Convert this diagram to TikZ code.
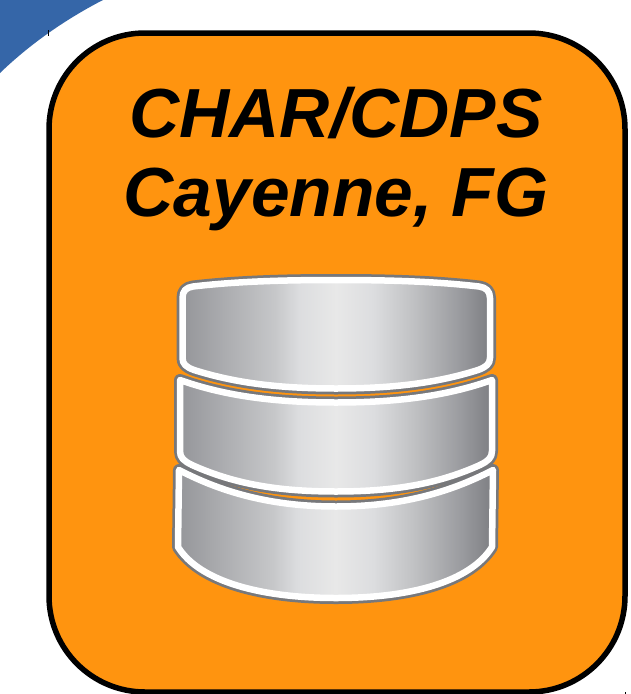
\documentclass[tikz,border=0pt]{standalone}
\usepackage{fontspec}
\setmainfont{Liberation Sans}
\definecolor{cornerblue}{HTML}{3566A8}
\definecolor{panelorange}{HTML}{FF940F}
\definecolor{diskrim}{HTML}{77787B}
\definecolor{sa}{HTML}{95969A}
\definecolor{sb}{HTML}{C6C7C9}
\definecolor{sc}{HTML}{DCDDDF}
\definecolor{sd}{HTML}{E8E8E8}
\definecolor{se}{HTML}{C0C1C3}
\definecolor{sf}{HTML}{9A9B9F}
\definecolor{sg}{HTML}{7D7E82}
\pgfdeclarehorizontalshading{diskshade}{100bp}{
  color(0bp)=(sa);
  color(25bp)=(sa);
  color(40bp)=(sb);
  color(44bp)=(sc);
  color(50bp)=(sd);
  color(56bp)=(sc);
  color(62.5bp)=(se);
  color(70bp)=(sf);
  color(75bp)=(sg);
  color(100bp)=(sg)}
\tikzset{
  panel/.style={draw=black,fill=panelorange,line width=5.5pt,rounded corners=96pt},
  disk/.style={preaction={draw=diskrim,line width=12pt,line join=round},shade,shading=diskshade,draw=white,line width=6.5pt,line join=round},
  tick/.style={draw=black,line width=0.7pt},
  title/.style={align=center,font=\fontsize{69.5}{79}\selectfont\bfseries\itshape,text=black,inner sep=0pt}
}
\begin{document}
\begin{tikzpicture}[x=1pt,y=-1pt]
\useasboundingbox (0,0) rectangle (631,694);
\fill[white] (0,0) rectangle (631,694);
\fill[cornerblue] (0,0) -- (103,0) .. controls (66,19) and (30,44) .. (0,73) -- cycle;
\coordinate (t1) at (48.5,30); \coordinate (t2) at (48.5,36);
\draw[tick] (t1) -- (t2);
\coordinate (t3) at (625.5,692); \coordinate (t4) at (625.5,694);
\draw[tick] (t3) -- (t4);
\draw[panel] (49,33) rectangle (625,692);
\node[title] (label) at (336,159) {CHAR/CDPS\\Cayenne, FG};
% bottom disk
\path[disk] (179,470) .. controls (225,494) and (275,506.5) .. (336,506.5)
  .. controls (397,506.5) and (447,494) .. (493,470)
  -- (492,547) .. controls (470,582) and (410,598) .. (336,598)
  .. controls (262,598) and (200,582) .. (178,547) -- cycle;
% middle disk
\path[disk] (180,380) .. controls (225,396) and (275,402.5) .. (336,402.5)
  .. controls (397,402.5) and (447,396) .. (492,380)
  -- (492,451) .. controls (492,458) and (488,461) .. (480,465)
  .. controls (440,483) and (397,491.5) .. (336,491.5)
  .. controls (275,491.5) and (232,483) .. (192,465)
  .. controls (184,461) and (180,458) .. (180,451) -- cycle;
% top disk
\path[disk] (193,286.5) .. controls (240,281) and (290,280) .. (336,280)
  .. controls (382,280) and (432,281) .. (479,286.5)
  .. controls (486,287.5) and (490,291) .. (490,298)
  -- (490,358) .. controls (490,364) and (486,367) .. (478,370)
  .. controls (440,382) and (397,388.5) .. (336,388.5)
  .. controls (275,388.5) and (232,382) .. (194,370)
  .. controls (186,367) and (182.5,364) .. (182.5,358)
  -- (182.5,298) .. controls (182.5,291) and (186,287.5) .. (193,286.5) -- cycle;
\end{tikzpicture}
\end{document}
